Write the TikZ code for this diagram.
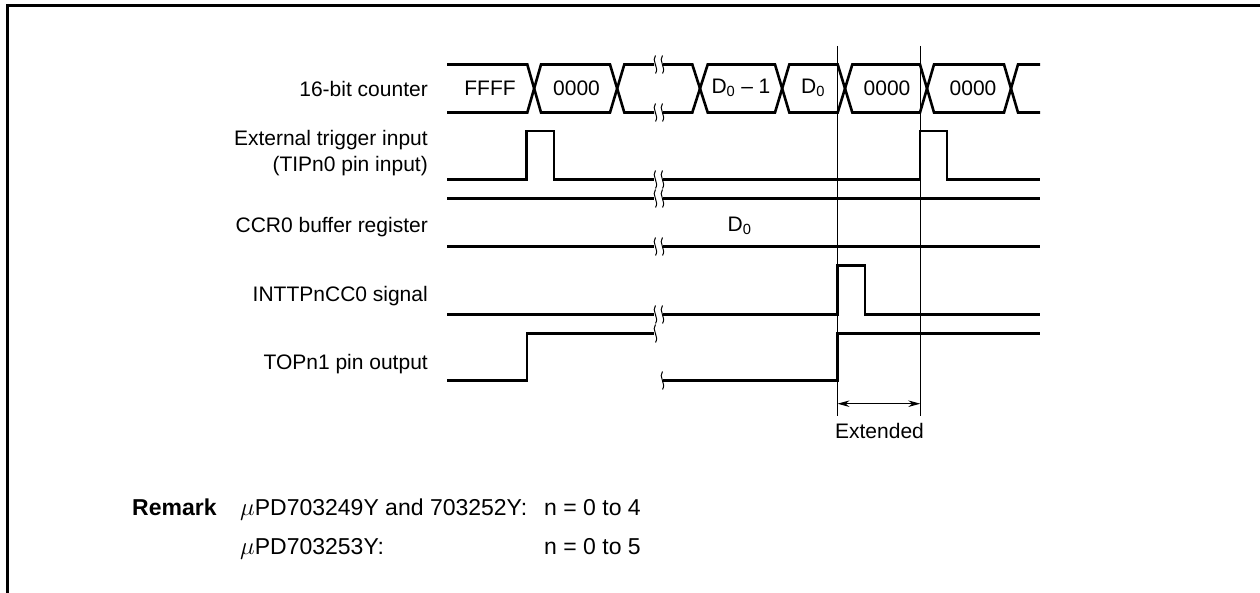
\documentclass[tikz,border=0pt]{standalone}
\usepackage{fontspec}
\setmainfont{Liberation Sans}
\usepackage{tikz}
\usetikzlibrary{arrows.meta}

\begin{document}
\begin{tikzpicture}[
    x=1pt,
    y=-1pt,
    font=\fontsize{21}{26}\selectfont,
    wave/.style={line width=2.6pt, line join=miter},
    guide/.style={line width=1pt},
    frame/.style={line width=2.8pt, line join=miter},
    dimline/.style={line width=1pt, {Stealth[length=12pt,width=6.5pt]}-{Stealth[length=12pt,width=6.5pt]}},
    sig/.style={anchor=base east, align=right, inner sep=0pt},
    val/.style={anchor=center, inner sep=0pt},
    txt/.style={anchor=base west, font=\fontsize{23}{28}\selectfont, inner sep=0pt},
    brk/.pic={
        \draw[line width=1pt] (0.5,-9) .. controls (-4,-4) and (4.5,3) .. (0.5,9);
    }
]
\useasboundingbox (0,0) rectangle (1260,593);

% page frame
\draw[frame] (7.4,593) -- (7.4,5.4) -- (1260,5.4);

% signal names
\node[sig] (cnt) at (428,96.5) {16-bit counter};
\node[sig] (ext) at (428,172) {External trigger input\\(TIPn0 pin input)};
\node[sig] (ccr) at (428,233) {CCR0 buffer register};
\node[sig] (int) at (428,301.5) {INTTPnCC0 signal};
\node[sig] (top) at (428,369.5) {TOPn1 pin output};

% 16-bit counter
\draw[wave] (447,64.5) -- (527.3,64.5) -- (541,112.5) -- (610,112.5) -- (624.3,64.5) -- (654,64.5);
\draw[wave] (447,112.5) -- (527.3,112.5) -- (541,64.5) -- (610,64.5) -- (624.3,112.5) -- (654,112.5);
\draw[wave] (663,64.5) -- (692.3,64.5) -- (707.7,112.5) -- (775,112.5) -- (789.3,64.5) -- (837.7,64.5) -- (852.3,112.5) -- (920,112.5) -- (934,64.5) -- (1004,64.5) -- (1018,112.5) -- (1040,112.5);
\draw[wave] (663,112.5) -- (692.3,112.5) -- (707.7,64.5) -- (775,64.5) -- (789.3,112.5) -- (837.7,112.5) -- (852.3,64.5) -- (920,64.5) -- (934,112.5) -- (1004,112.5) -- (1018,64.5) -- (1040,64.5);
\node[val] (vfff) at (490,88) {FFFF};
\node[val] (v0a) at (576.5,88) {0000};
\node[val] (vd1) at (741,88) {D\textsubscript{0} -- 1};
\node[val] (vd0) at (813,88) {D\textsubscript{0}};
\node[val] (v0b) at (887,88) {0000};
\node[val] (v0c) at (973,88) {0000};

% external trigger
\draw[wave] (447,179.5) -- (526.7,179.5) -- (526.7,131) -- (554,131) -- (554,179.5) -- (654,179.5);
\draw[wave] (663,179.5) -- (920,179.5) -- (920,131) -- (947,131) -- (947,179.5) -- (1040,179.5);
\draw[wave] (447,198.5) -- (654,198.5);
\draw[wave] (663,198.5) -- (1040,198.5);

% CCR0
\node[val] (vccr) at (739.5,225.5) {D\textsubscript{0}};
\draw[wave] (447,246.5) -- (654,246.5);
\draw[wave] (663,246.5) -- (1040,246.5);

% INTTPnCC0
\draw[wave] (447,314.5) -- (654,314.5);
\draw[wave] (663,314.5) -- (837.5,314.5) -- (837.5,265.5) -- (865,265.5) -- (865,314.5) -- (1040,314.5);

% TOPn1
\draw[wave] (447,380.5) -- (527,380.5) -- (527,333.5) -- (654,333.5);
\draw[wave] (663,380.5) -- (837.5,380.5) -- (837.5,333.5) -- (1040,333.5);

% breaks
\foreach \yy in {64.5,112.5,179.5,198.5,246.5,314.5} {
    \pic at (655,\yy) {brk};
    \pic at (662,\yy) {brk};
}
\pic at (655,333.5) {brk};
\pic at (662,380.5) {brk};

% extended
\coordinate (exa) at (837.5,46);
\coordinate (exb) at (920.3,46);
\draw[guide] (exa) -- (837.5,416);
\draw[guide] (exb) -- (920.3,416);
\coordinate (dima) at (837.5,403.7);
\coordinate (dimb) at (920.3,403.7);
\draw[dimline] (dima) -- (dimb);
\node[val] (lbl) at (879.5,431) {Extended};

% remark
\node[txt] (rem) at (132,515) {\textbf{Remark}};
\node[txt] (ra) at (240,515) {$\mu$PD703249Y and 703252Y:};
\node[txt] (rb) at (544,515) {n = 0 to 4};
\node[txt] (rc) at (240,554) {$\mu$PD703253Y:};
\node[txt] (rd) at (544,554) {n = 0 to 5};

\end{tikzpicture}
\end{document}
